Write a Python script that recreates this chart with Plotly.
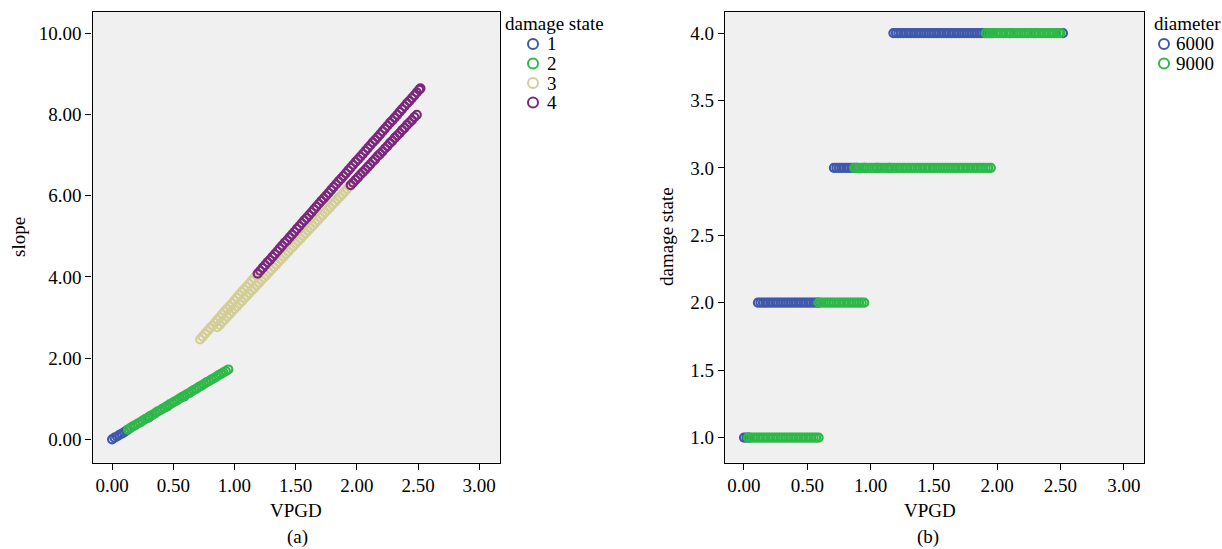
import plotly.graph_objects as go

# ---------------- panel (a): slope vs VPGD, by damage state ----------------
a_ds1_x = [0.00, 0.02, 0.04, 0.06, 0.08, 0.10, 0.12, 0.30, 0.45, 0.59]
a_ds1_y = [0.00, 0.04, 0.07, 0.11, 0.14, 0.18, 0.22, 0.54, 0.81, 1.06]

a_ds2_x = [0.13, 0.15, 0.17, 0.19, 0.21, 0.23, 0.25, 0.27, 0.29, 0.31, 0.33,
           0.35, 0.37, 0.39, 0.41, 0.43, 0.45, 0.47, 0.49, 0.51, 0.53, 0.55,
           0.57, 0.59, 0.61, 0.63, 0.65, 0.67, 0.69, 0.71, 0.73, 0.75, 0.77,
           0.79, 0.81, 0.83, 0.85, 0.87, 0.89, 0.91, 0.93, 0.95]
a_ds2_y = [0.24, 0.28, 0.32, 0.35, 0.39, 0.42, 0.46, 0.50, 0.53, 0.57, 0.60,
           0.64, 0.68, 0.71, 0.75, 0.78, 0.82, 0.86, 0.89, 0.93, 0.96, 1.00,
           1.04, 1.07, 1.11, 1.14, 1.18, 1.22, 1.25, 1.29, 1.32, 1.36, 1.40,
           1.43, 1.47, 1.50, 1.54, 1.58, 1.61, 1.65, 1.68, 1.72]

a_ds3_x = [0.72, 0.74, 0.76, 0.78, 0.80, 0.82, 0.84, 0.86, 0.88, 0.90, 0.92,
           0.94, 0.96, 0.98, 1.00, 1.02, 1.04, 1.06, 1.08, 1.10, 1.12, 1.14,
           1.16, 1.18,
           0.86, 0.88, 0.90, 0.92, 0.94, 0.96, 0.98, 1.00, 1.02, 1.04, 1.06,
           1.08, 1.10, 1.12, 1.14, 1.16, 1.18, 1.20, 1.22, 1.24, 1.26, 1.28,
           1.30, 1.32, 1.34, 1.36, 1.38, 1.40, 1.42, 1.44, 1.46, 1.48, 1.50,
           1.52, 1.54, 1.56, 1.58, 1.60, 1.62, 1.64, 1.66, 1.68, 1.70, 1.72,
           1.74, 1.76, 1.78, 1.80, 1.82, 1.84, 1.86, 1.88, 1.90, 1.92, 1.94]
a_ds3_y = [2.46, 2.53, 2.60, 2.67, 2.74, 2.80, 2.87, 2.94, 3.01, 3.08, 3.15,
           3.21, 3.28, 3.35, 3.42, 3.49, 3.56, 3.63, 3.69, 3.76, 3.83, 3.90,
           3.97, 4.04,
           2.76, 2.82, 2.89, 2.95, 3.02, 3.08, 3.15, 3.21, 3.27, 3.34, 3.40,
           3.47, 3.53, 3.60, 3.66, 3.72, 3.79, 3.85, 3.92, 3.98, 4.04, 4.11,
           4.17, 4.24, 4.30, 4.37, 4.43, 4.49, 4.56, 4.62, 4.69, 4.75, 4.82,
           4.88, 4.94, 5.01, 5.07, 5.14, 5.20, 5.26, 5.33, 5.39, 5.46, 5.52,
           5.59, 5.65, 5.71, 5.78, 5.84, 5.91, 5.97, 6.03, 6.10, 6.16, 6.23]

a_ds4_x = [1.19, 1.21, 1.23, 1.25, 1.27, 1.29, 1.31, 1.33, 1.35, 1.37, 1.39,
           1.41, 1.43, 1.45, 1.47, 1.49, 1.51, 1.53, 1.55, 1.57, 1.59, 1.61,
           1.63, 1.65, 1.67, 1.69, 1.71, 1.73, 1.75, 1.77, 1.79, 1.81, 1.83,
           1.85, 1.87, 1.89, 1.91, 1.93, 1.95, 1.97, 1.99, 2.01, 2.03, 2.05,
           2.07, 2.09, 2.11, 2.13, 2.15, 2.17, 2.19, 2.21, 2.23, 2.25, 2.27,
           2.29, 2.31, 2.33, 2.35, 2.37, 2.39, 2.41, 2.43, 2.45, 2.47, 2.49,
           2.51, 2.52,
           1.95, 1.97, 1.99, 2.01, 2.03, 2.05, 2.07, 2.09, 2.11, 2.13, 2.15,
           2.17, 2.19, 2.21, 2.23, 2.25, 2.27, 2.29, 2.31, 2.33, 2.35, 2.37,
           2.39, 2.41, 2.43, 2.45, 2.47, 2.49]
a_ds4_y = [4.08, 4.15, 4.22, 4.29, 4.36, 4.42, 4.49, 4.56, 4.63, 4.70, 4.77,
           4.84, 4.90, 4.97, 5.04, 5.11, 5.18, 5.25, 5.32, 5.39, 5.45, 5.52,
           5.59, 5.66, 5.73, 5.80, 5.87, 5.93, 6.00, 6.07, 6.14, 6.21, 6.28,
           6.35, 6.41, 6.48, 6.55, 6.62, 6.69, 6.76, 6.83, 6.89, 6.96, 7.03,
           7.10, 7.17, 7.24, 7.31, 7.37, 7.44, 7.51, 7.58, 7.65, 7.72, 7.79,
           7.85, 7.92, 7.99, 8.06, 8.13, 8.20, 8.27, 8.33, 8.40, 8.47, 8.54,
           8.61, 8.64,
           6.26, 6.32, 6.39, 6.45, 6.52, 6.58, 6.64, 6.71, 6.77, 6.84, 6.90,
           6.97, 7.03, 7.09, 7.16, 7.22, 7.29, 7.35, 7.42, 7.48, 7.54, 7.61,
           7.67, 7.74, 7.80, 7.86, 7.93, 7.99]

# ---------------- panel (b): damage state vs VPGD, by diameter ----------------
b_6000 = {
    1: [0.00, 0.02, 0.04],
    2: [0.11, 0.13, 0.15, 0.17, 0.19, 0.21, 0.23, 0.25, 0.27, 0.29, 0.31,
        0.33, 0.35, 0.37, 0.39, 0.41, 0.43, 0.45, 0.47, 0.49, 0.51, 0.53,
        0.55, 0.57, 0.59],
    3: [0.71, 0.73, 0.75, 0.77, 0.79, 0.81, 0.83, 0.85, 0.87, 0.89, 0.95,
        1.05, 1.15],
    4: [1.18, 1.20, 1.22, 1.24, 1.26, 1.28, 1.30, 1.32, 1.34, 1.36, 1.38,
        1.40, 1.42, 1.44, 1.46, 1.48, 1.50, 1.52, 1.54, 1.56, 1.58, 1.60,
        1.62, 1.64, 1.66, 1.68, 1.70, 1.72, 1.74, 1.76, 1.78, 1.80, 1.82,
        1.84, 1.86, 1.88, 1.90, 1.92, 1.94, 1.96, 2.10, 2.30, 2.52],
}
b_9000 = {
    1: [0.03, 0.05, 0.07, 0.09, 0.11, 0.13, 0.15, 0.17, 0.19, 0.21, 0.23,
        0.25, 0.27, 0.29, 0.31, 0.33, 0.35, 0.37, 0.39, 0.41, 0.43, 0.45,
        0.47, 0.49, 0.51, 0.53, 0.55, 0.57, 0.59],
    2: [0.59, 0.61, 0.63, 0.65, 0.67, 0.69, 0.71, 0.73, 0.75, 0.77, 0.79,
        0.81, 0.83, 0.85, 0.87, 0.89, 0.91, 0.93, 0.95],
    3: [0.87, 0.89, 0.91, 0.93, 0.95, 0.97, 0.99, 1.01, 1.03, 1.05, 1.07,
        1.09, 1.11, 1.13, 1.15, 1.17, 1.19, 1.21, 1.23, 1.25, 1.27, 1.29,
        1.31, 1.33, 1.35, 1.37, 1.39, 1.41, 1.43, 1.45, 1.47, 1.49, 1.51,
        1.53, 1.55, 1.57, 1.59, 1.61, 1.63, 1.65, 1.67, 1.69, 1.71, 1.73,
        1.75, 1.77, 1.79, 1.81, 1.83, 1.85, 1.87, 1.89, 1.91, 1.93, 1.95],
    4: [1.91, 1.93, 1.95, 1.97, 1.99, 2.01, 2.03, 2.05, 2.07, 2.09, 2.11,
        2.13, 2.15, 2.17, 2.19, 2.21, 2.23, 2.25, 2.27, 2.29, 2.31, 2.33,
        2.35, 2.37, 2.39, 2.41, 2.43, 2.45, 2.47, 2.49, 2.50],
}

ds_labels = ["1", "2", "3", "4"]
diam_labels = ["6000", "9000"]
a_x_ticks = [0.0, 0.5, 1.0, 1.5, 2.0, 2.5, 3.0]
a_y_ticks = [0.0, 2.0, 4.0, 6.0, 8.0, 10.0]
b_y_ticks = [1.0, 1.5, 2.0, 2.5, 3.0, 3.5, 4.0]

BLUE = "#3E58AC"
GREEN = "#2EB848"
TAN = "#D3CE97"
PURPLE = "#7C287D"
FONT = "Liberation Serif"

W, H = 1222, 549


def px_x(p):
    return p / W


def px_y(p):
    return 1 - p / H


def mk(color):
    return dict(symbol="circle-open", size=8, color=color,
                line=dict(width=2.2, color=color))


fig = go.Figure()

a_cols = [BLUE, GREEN, TAN, PURPLE]
for lab, xs, ys, col in zip(ds_labels, [a_ds1_x, a_ds2_x, a_ds3_x, a_ds4_x],
                            [a_ds1_y, a_ds2_y, a_ds3_y, a_ds4_y], a_cols):
    fig.add_trace(go.Scatter(x=xs, y=ys, mode="markers", name=lab, marker=mk(col),
                             xaxis="x", yaxis="y", showlegend=False))

b_cols = [BLUE, GREEN]
for lab, groups, col in zip(diam_labels, [b_6000, b_9000], b_cols):
    xs, ys = [], []
    for ds, vals in groups.items():
        xs += vals
        ys += [ds] * len(vals)
    fig.add_trace(go.Scatter(x=xs, y=ys, mode="markers", name=lab, marker=mk(col),
                             xaxis="x2", yaxis="y2", showlegend=False))

ydom = [px_y(462.5), px_y(12)]
axis_common = dict(showline=True, linecolor="black", linewidth=1.3, mirror=True,
                   ticks="outside", ticklen=6, tickwidth=1.3, tickcolor="black",
                   showgrid=False, zeroline=False,
                   tickfont=dict(family=FONT, size=19, color="black"))

fig.update_layout(
    width=W, height=H,
    margin=dict(l=0, r=0, t=0, b=0),
    paper_bgcolor="white", plot_bgcolor="#F0F0F0",
    font=dict(family=FONT, color="black"),
    xaxis=dict(domain=[px_x(92.5), px_x(500)], range=[-0.16, 3.17],
               tickvals=a_x_ticks, tickformat=".2f", anchor="y", **axis_common),
    yaxis=dict(domain=ydom, range=[-0.57, 10.52], tickvals=a_y_ticks,
               tickformat=".2f", anchor="x", **axis_common),
    xaxis2=dict(domain=[px_x(725), px_x(1144)], range=[-0.15, 3.16],
                tickvals=a_x_ticks, tickformat=".2f", anchor="y2", **axis_common),
    yaxis2=dict(domain=ydom, range=[0.815, 4.156], tickvals=b_y_ticks,
                tickformat=".1f", anchor="x2", **axis_common),
    showlegend=False,
)

ann = [
    ("VPGD", 296, 510, 0),
    ("slope", 18, 237, -90),
    ("(a)", 297, 537, 0),
    ("VPGD", 930, 510, 0),
    ("damage state", 666, 237, -90),
    ("(b)", 928, 537, 0),
]
for text, x, y, rot in ann:
    fig.add_annotation(text=text, x=px_x(x), y=px_y(y), xref="paper", yref="paper",
                       showarrow=False, textangle=rot, xanchor="center", yanchor="middle",
                       font=dict(family=FONT, size=19, color="black"))


# ---- legends (drawn as paper-positioned text + circle outlines) ----
def add_legend(title, labels, colors, left, title_y, first_y, step, mx, tx):
    fig.add_annotation(text=title, x=px_x(left), y=px_y(title_y), xref="paper",
                       yref="paper", showarrow=False, xanchor="left", yanchor="middle",
                       font=dict(family=FONT, size=19, color="black"))
    for i, (lab, col) in enumerate(zip(labels, colors)):
        cy = first_y + i * step
        fig.add_shape(type="circle", xref="paper", yref="paper",
                      x0=px_x(mx - 5), x1=px_x(mx + 5), y0=px_y(cy + 5), y1=px_y(cy - 5),
                      line=dict(color=col, width=2), fillcolor="rgba(0,0,0,0)")
        fig.add_annotation(text=lab, x=px_x(tx), y=px_y(cy), xref="paper",
                           yref="paper", showarrow=False, xanchor="left",
                           yanchor="middle",
                           font=dict(family=FONT, size=19, color="black"))


add_legend("damage state", ds_labels, a_cols, 503, 23, 44, 19.5, 533, 545)
add_legend("diameter", diam_labels, b_cols, 1152, 23, 44, 19.5, 1164, 1174)

fig.write_html("out.html")
